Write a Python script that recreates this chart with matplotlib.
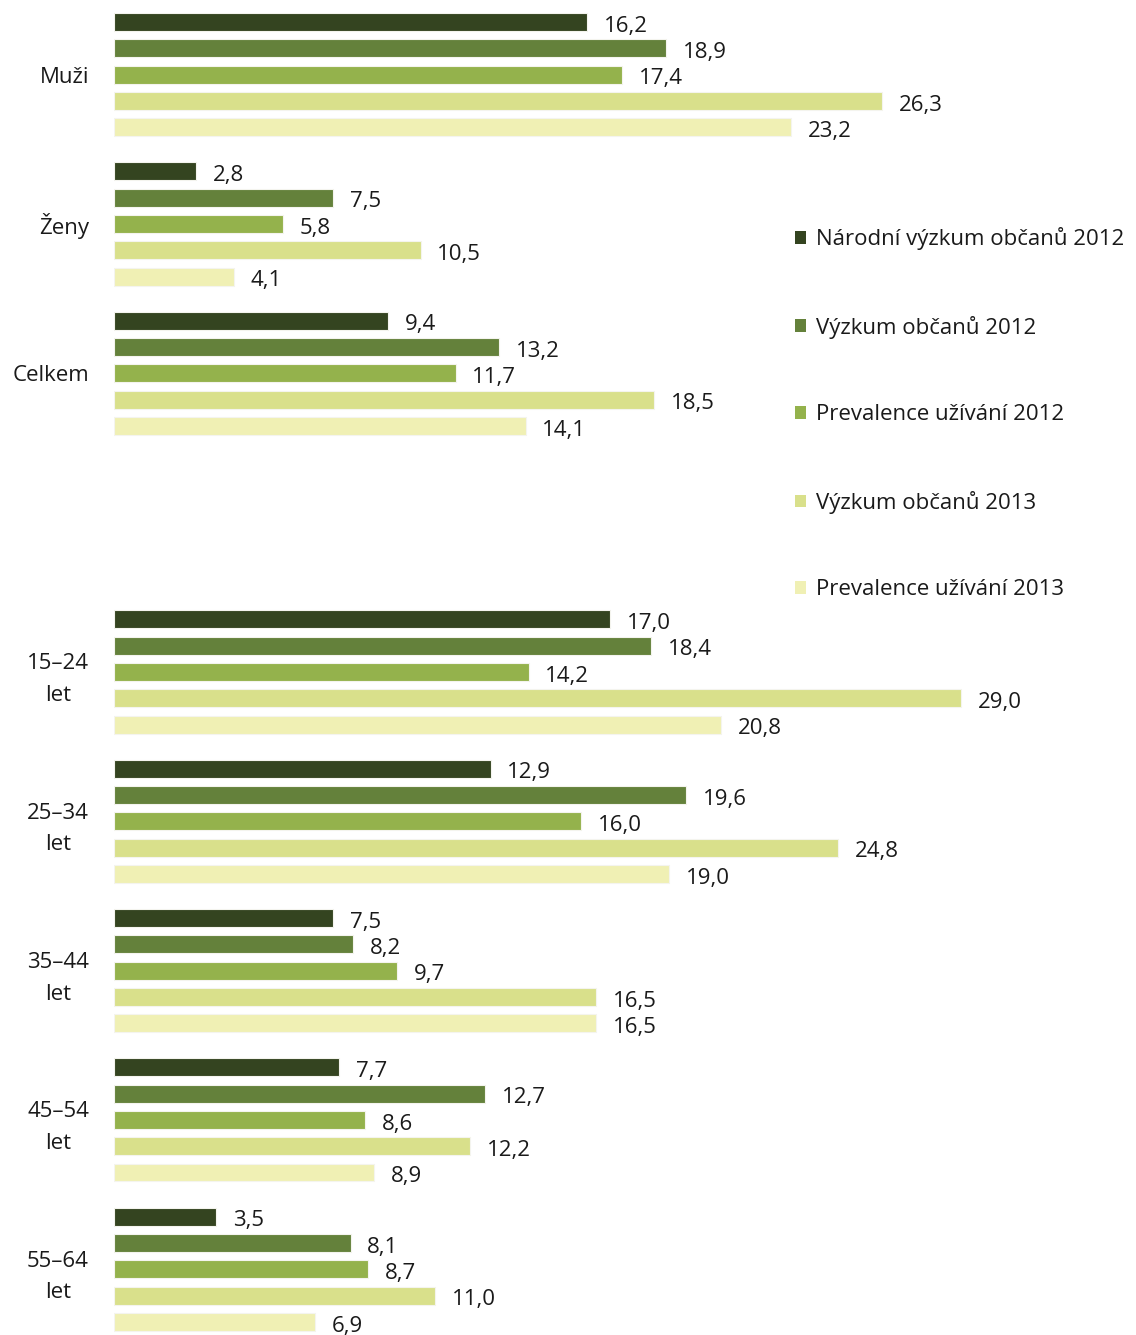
import numpy as np
import matplotlib.pyplot as plt
from matplotlib.patches import Patch

plt.rcParams['font.family'] = ['Open Sans', 'DejaVu Sans']

# groups, one empty slot separates sex rows from age rows
groups = ["Muži", "Ženy", "Celkem", "", "15–24\nlet", "25–34\nlet", "35–44\nlet", "45–54\nlet", "55–64\nlet"]

series = ["Národní výzkum občanů 2012", "Výzkum občanů 2012", "Prevalence užívání 2012",
          "Výzkum občanů 2013", "Prevalence užívání 2013"]
colors = ["#344420", "#64813b", "#94b24c", "#d9e08b", "#f0f0b4"]

narodni_2012 = [16.2, 2.8, 9.4, None, 17.0, 12.9, 7.5, 7.7, 3.5]
vyzkum_2012 = [18.9, 7.5, 13.2, None, 18.4, 19.6, 8.2, 12.7, 8.1]
prevalence_2012 = [17.4, 5.8, 11.7, None, 14.2, 16.0, 9.7, 8.6, 8.7]
vyzkum_2013 = [26.3, 10.5, 18.5, None, 29.0, 24.8, 16.5, 12.2, 11.0]
prevalence_2013 = [23.2, 4.1, 14.1, None, 20.8, 19.0, 16.5, 8.9, 6.9]

values = [narodni_2012, vyzkum_2012, prevalence_2012, vyzkum_2013, prevalence_2013]

fig = plt.figure(figsize=(11.36, 13.35), dpi=100)
ax = fig.add_axes([114 / 1136, 0, 1 - 114 / 1136, 1])

step = 0.176
bar_h = 0.12
y = np.arange(len(groups))

for j, (vals, col) in enumerate(zip(values, colors)):
    for i, v in enumerate(vals):
        if v is None:
            continue
        yy = y[i] + (j - 2) * step
        ax.barh(yy, v, height=bar_h, color=col, edgecolor="#f4f4ee", linewidth=0.8)
        ax.annotate(f"{v:.1f}".replace(".", ","), (v, yy), xytext=(12, -3),
                    textcoords="offset points", ha="left", va="center",
                    fontsize=16, color="#1a1a1a")

ax.set_xlim(0, 35.0)
ax.set_ylim(8.44, -0.5)
ax.set_yticks(y)
ax.set_yticklabels(groups, fontsize=16, color="#1a1a1a", ma="center", linespacing=1.65)
ax.tick_params(axis="y", length=0, pad=18)
ax.set_xticks([])
for s in ax.spines.values():
    s.set_visible(False)

handles = [Patch(facecolor=c, edgecolor="none") for c in colors]
fig.legend(handles, series, loc="upper left", bbox_to_anchor=(784 / 1136, 1 - 216 / 1335),
           frameon=False, fontsize=16, labelspacing=2.95, handlelength=0.5,
           handleheight=0.5, handletextpad=0.45, borderpad=0, labelcolor="#1a1a1a")

fig.savefig("out.png", dpi=100, facecolor="white")
